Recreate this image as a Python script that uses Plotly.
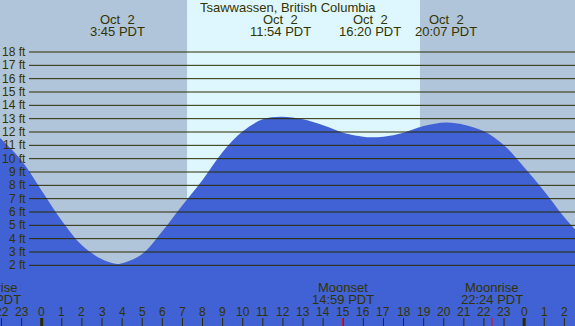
import plotly.graph_objects as go

# ---------------- data ----------------
tide_hours = [-2.07, -2, -1, 0, 1, 2, 3, 3.75, 4, 5, 6, 7, 8, 9, 10, 11, 11.9, 13, 14, 15,
              16, 16.33, 17, 18, 19, 20.12, 21, 22, 23, 24, 25, 26, 26.55]
tide_heights = [11.55, 11.45, 9.85, 7.6, 5.35, 3.5, 2.45, 2.1, 2.15, 2.85, 4.55, 6.5, 8.4, 10.5,
                12.05, 12.95, 13.15, 12.95, 12.5, 11.95, 11.65, 11.6, 11.65, 11.95, 12.45,
                12.72, 12.55, 12.05, 11.0, 9.35, 7.55, 5.6, 4.65]

ft_levels = list(range(2, 19))
ft_labels = [f"{v} ft" for v in ft_levels]

hour_ticks = list(range(-2, 27))
hour_labels = [str(h % 24) for h in hour_ticks]
midnights = [0, 24]

event_hours = [3.75, 11.9, 16.333, 20.117]
event_dates = ["Oct\u00a0\u00a02"] * 4
event_times = ["3:45 PDT", "11:54 PDT", "16:20 PDT", "20:07 PDT"]

moon_hours = [-2.57, 14.983, 22.4]
moon_names = ["Moonrise", "Moonset", "Moonrise"]
moon_times = ["21:34 PDT", "14:59 PDT", "22:24 PDT"]

sunrise, sunset = 7.23, 18.82
title = "Tsawwassen, British Columbia"

# ---------------- layout constants ----------------
W, H = 575, 326
XMIN, XMAX = -2.075, 26.53
YMIN, YMAX = -2.55, 21.9
TXT = "#333300"
FONT = "Liberation Sans"

def px_y(py):
    return 1 - py / H

def hour_to_paper(h):
    return (h - XMIN) / (XMAX - XMIN)

fig = go.Figure()
fig.add_trace(go.Scatter(x=[XMIN - 1, XMAX + 1], y=[YMIN - 1, YMIN - 1], mode="lines",
                         line=dict(width=0), hoverinfo="skip", showlegend=False))
fig.add_trace(go.Scatter(x=tide_hours, y=tide_heights, mode="lines",
                         line=dict(width=0, shape="spline", color="#4162d4"),
                         fill="tonexty", fillcolor="#4162d4", showlegend=False))

shapes = []
# daylight
shapes.append(dict(type="rect", xref="x", yref="paper", x0=sunrise, x1=sunset, y0=0, y1=1,
                   fillcolor="#def7fe", line=dict(width=0), layer="below"))
# ft lines
for v in ft_levels:
    shapes.append(dict(type="line", xref="paper", yref="y", x0=29 / W, x1=1, y0=v, y1=v,
                       line=dict(color="#2b2b00", width=1), layer="above"))
# hour ticks
for h in hour_ticks:
    shapes.append(dict(type="line", xref="x", yref="paper", x0=h, x1=h, y0=0, y1=8 / H,
                       line=dict(color="#2b2b00", width=3 if h in midnights else 1), layer="above"))
# moon ticks
for h in moon_hours:
    shapes.append(dict(type="line", xref="x", yref="paper", x0=h, x1=h, y0=0, y1=8 / H,
                       line=dict(color="#ff0000", width=1), layer="above"))

ann = []
def add(text, x, y, xref="paper", xanchor="center", size=13):
    ann.append(dict(text=text, x=x, y=y, xref=xref, yref="paper", xanchor=xanchor,
                    yanchor="middle", showarrow=False, font=dict(family=FONT, size=size, color=TXT)))

add(title, 287.5 / W, px_y(7.5))
for h, d, t in zip(event_hours, event_dates, event_times):
    add(d, hour_to_paper(h), px_y(19.5))
    add(t, hour_to_paper(h), px_y(31.5))
for v, lab in zip(ft_levels, ft_labels):
    ann.append(dict(text=lab, x=27.5 / W, y=v, xref="paper", yref="y", xanchor="right",
                    yanchor="middle", showarrow=False, font=dict(family=FONT, size=12, color=TXT)))
for h, lab in zip(hour_ticks, hour_labels):
    add(lab, h, px_y(312), xref="x", size=12)
for h, n, t in zip(moon_hours, moon_names, moon_times):
    add(n, hour_to_paper(h), px_y(287.5))
    add(t, hour_to_paper(h), px_y(299.5))

fig.update_layout(
    width=W, height=H, margin=dict(l=0, r=0, t=0, b=0),
    paper_bgcolor="#b0c4da", plot_bgcolor="rgba(0,0,0,0)",
    xaxis=dict(range=[XMIN, XMAX], visible=False, fixedrange=True),
    yaxis=dict(range=[YMIN, YMAX], visible=False, fixedrange=True),
    shapes=shapes, annotations=ann, showlegend=False,
)
fig.write_html("out.html", config={"displayModeBar": False},
               post_script="document.body.style.margin='0px';document.body.style.overflow='hidden';")
